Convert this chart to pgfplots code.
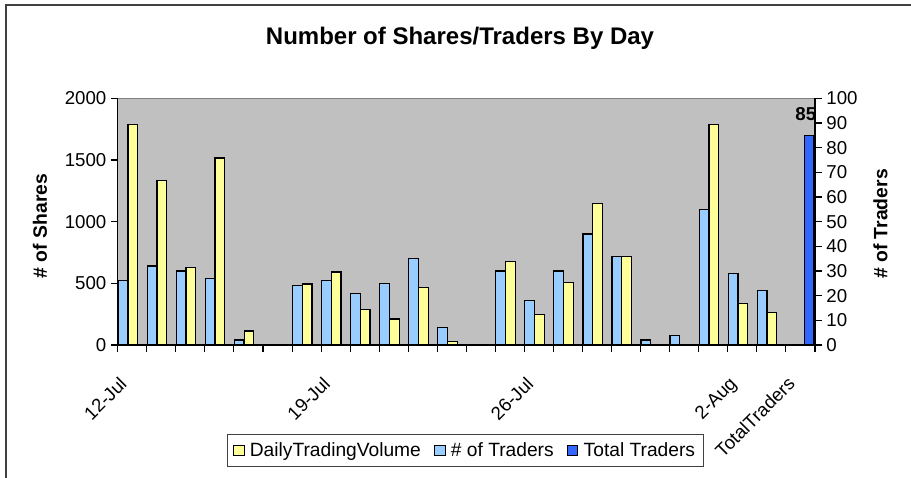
\documentclass[border=0pt]{standalone}
\usepackage{pgfplots}
\pgfplotsset{compat=1.18}
\usepackage{fontspec}
\setmainfont{Liberation Sans}
\definecolor{vol}{HTML}{FFFF99}
\definecolor{trd}{HTML}{99CCFF}
\definecolor{tot}{HTML}{3366FF}
\definecolor{plotbg}{HTML}{C0C0C0}
\definecolor{frame}{HTML}{404040}

% geometry in pt (1px = 0.75pt), origin at top left of the picture
\pgfplotsset{
  base/.style={
    scale only axis, width=522.95pt, height=185pt,
    at={(88.3pt,-258.75pt)}, anchor=south west,
    xmin=-0.5, xmax=23.5, ymin=0,
    ybar, bar width=7.3pt,
    tick align=outside, major tick length=5pt,
    tick style={black, line width=0.8pt},
    axis line style={-, black, line width=0.8pt},
    tick label style={font=\fontsize{14}{16}\selectfont},
    /pgf/number format/assume math mode=true,
    /pgf/number format/1000 sep={},
    legend image code/.code={\draw[#1, line width=0.7pt] (0pt,-4pt) rectangle (8pt,4pt);},
  }
}

\begin{document}
\begin{tikzpicture}
\useasboundingbox (0,0) rectangle (683.25pt,-358.5pt);
\draw[line width=1.5pt, frame] (4.5pt,-358.5pt) -- (4.5pt,-3.75pt) -- (683.25pt,-3.75pt);

\node[font=\fontsize{18}{20}\selectfont\bfseries, anchor=base] at (345pt,-33.2pt) {Number of Shares/Traders By Day};
\node[font=\fontsize{14.5}{16}\selectfont\bfseries, rotate=90] at (30pt,-169.5pt) {\# of Shares};
\node[font=\fontsize{14.5}{16}\selectfont\bfseries, rotate=90] at (660.4pt,-168pt) {\# of Traders};

% left axis: daily trading volume
\begin{axis}[base, ymax=2000, ytick={0,500,...,2000},
  axis background/.style={fill=plotbg, draw=gray, line width=0.8pt},
  axis x line*=bottom, axis y line*=left,
  xtick={-0.5,0.5,...,23.5}, xticklabels={},
  extra x ticks={0,7,14,21,23},
  extra x tick labels={12-Jul,19-Jul,26-Jul,2-Aug,TotalTraders},
  extra x tick style={major tick length=0pt,
    tick label style={xshift=-10.5pt, yshift=-18pt, rotate=45, anchor=north east}},
  ]
  \addplot[fill=vol, draw=black, line width=0.9pt, bar shift=0.4pt] coordinates {
    (0,1789) (1,1332) (2,630) (3,1516) (4,113)
    (6,494) (7,592) (8,286) (9,211) (10,468) (11,27)
    (13,678) (14,246) (15,508) (16,1146) (17,716)
    (20,1789) (21,335) (22,262)};
\end{axis}

% right axis: number of traders
\begin{axis}[base, ymax=100, ytick={0,10,...,100},
  axis y line*=right, axis x line=none,
  legend style={at={(0.4985,-0.361)}, anchor=north, legend columns=3,
    draw=black!75, fill=white, line width=0.7pt, inner ysep=4pt, inner xsep=4pt,
    font=\fontsize{14.4}{16}\selectfont,
    /tikz/every odd column/.append style={column sep=2pt},
    /tikz/every even column/.append style={column sep=7.8pt}},
  ]
  \addlegendimage{fill=vol, draw=black}
  \addlegendentry{DailyTradingVolume}
  \addplot[fill=trd, draw=black, line width=0.9pt, bar shift=-7pt] coordinates {
    (0,26) (1,32) (2,30) (3,27) (4,2)
    (6,24) (7,26) (8,21) (9,25) (10,35) (11,7)
    (13,30) (14,18) (15,30) (16,45) (17,36)
    (18,2) (19,4) (20,55) (21,29) (22,22)};
  \addlegendentry{\# of Traders}
  \addplot[fill=tot, draw=black, line width=0.9pt, bar shift=6.5pt,
    nodes near coords,
    every node near coord/.style={font=\fontsize{14}{16}\selectfont\bfseries, anchor=south, yshift=7pt, xshift=4pt}]
    coordinates {(23,85)};
  \addlegendentry{Total Traders}
\end{axis}
\end{tikzpicture}
\end{document}
